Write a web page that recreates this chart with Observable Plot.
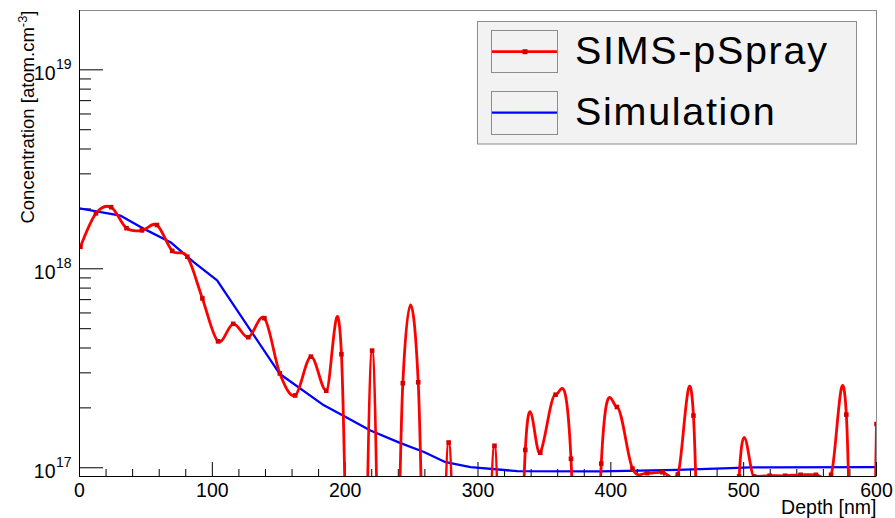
<!DOCTYPE html>
<html><head><meta charset="utf-8">
<script src="https://cdn.jsdelivr.net/npm/d3@7"></script>
<script src="https://cdn.jsdelivr.net/npm/@observablehq/plot@0.6"></script>
<style>
body{margin:0;background:#fff;}
#wrap{width:895px;height:518px;}
</style></head><body><div id="wrap"></div>
<script>
// ---- data ----
const simsDepth = [0.7, 12.4, 23.8, 35.4, 47.0, 58.3, 69.8, 81.2, 92.5, 104.3, 115.7, 127.1, 139.2, 150.8, 162.4, 174.2, 185.8, 197.2, 208.6, 220.3, 231.8, 243.4, 255.0, 266.4, 277.9, 289.4, 300.9, 312.4, 324.0, 335.6, 346.9, 358.4, 370.0, 381.4, 392.8, 404.6, 416.3, 427.4, 438.7, 450.4, 462.2, 473.6, 485.1, 496.6, 507.9, 519.6, 531.2, 542.9, 554.4, 565.8, 577.3, 588.8, 600.0];
const simsConc = [1.29e18, 1.90e18, 2.04e18, 1.60e18, 1.56e18, 1.66e18, 1.23e18, 1.15e18, 7.1e17, 4.32e17, 5.29e17, 4.53e17, 5.65e17, 2.98e17, 2.31e17, 3.62e17, 2.44e17, 3.72e17, 2e14, 3.88e17, 2e14, 2.66e17, 2.69e17, 2e14, 1.34e17, 2e14, 2e14, 1.29e17, 2e14, 1.23e17, 1.19e17, 2.33e17, 1.11e17, 2e14, 1.05e17, 2.02e17, 9.9e16, 9.4e16, 9.5e16, 9.25e16, 1.83e17, 2e14, 2e14, 9.05e16, 9.05e16, 9.12e16, 9.12e16, 9.22e16, 9.22e16, 9.22e16, 1.85e17, 2e14, 1.66e17];
const simDepth = [0, 31, 46, 68.5, 86, 103.6, 150.6, 184, 199, 219, 241.7, 259.3, 275.6, 294.4, 329.6, 392, 450, 490, 505, 600];
const simConc = [2.01e18, 1.85e18, 1.62e18, 1.36e18, 1.08e18, 8.75e17, 2.97e17, 2.06e17, 1.82e17, 1.54e17, 1.33e17, 1.2e17, 1.067e17, 1.007e17, 9.62e16, 9.6e16, 9.77e16, 9.95e16, 1.005e17, 1.007e17];
const xMajor = [0, 100, 200, 300, 400, 500, 600];
const xLabels = ["0", "100", "200", "300", "400", "500", "600"];
const xMinor = [20, 40, 60, 80, 120, 140, 160, 180, 220, 240, 260, 280, 320, 340, 360, 380, 420, 440, 460, 480, 520, 540, 560, 580];
const yMajor = [1e17, 1e18, 1e19];
const yBase = ["10", "10", "10"];
const yExp = ["17", "18", "19"];
const yMinor = [2e17, 3e17, 4e17, 5e17, 6e17, 7e17, 8e17, 9e17, 2e18, 3e18, 4e18, 5e18, 6e18, 7e18, 8e18, 9e18];
const seriesNames = ["SIMS-pSpray", "Simulation"];
const xTitle = "Depth [nm]";
const yTitle = "Concentration [atom.cm";
const yTitleExp = "-3";

// ---- layout ----
const W = 895, H = 518, mL = 79, mR = 19, mT = 10, mB = 42;
const innerW = W - mL - mR, innerH = H - mT - mB;
const yDomain = [9.04e16, 1.987e19];
const font = "'Liberation Sans', Arial, Helvetica, sans-serif";

const sims = simsDepth.map((d, i) => ({x: d, y: simsConc[i]}));
const sim = simDepth.map((d, i) => ({x: d, y: simConc[i]}));

const plot = Plot.plot({
  width: W, height: H,
  marginLeft: mL, marginRight: mR, marginTop: mT, marginBottom: mB,
  x: {domain: [0, 600], axis: null},
  y: {type: "log", domain: yDomain, axis: null},
  style: {fontFamily: font, background: "white", color: "black", overflow: "visible"},
  marks: [
    Plot.frame({stroke: "#8c8c8c"}),
    Plot.tickX(xMinor, {x: d => d, insetTop: innerH - 7, stroke: "#000"}),
    Plot.tickX(xMajor, {x: d => d, insetTop: innerH - 14, stroke: "#000"}),
    Plot.tickY(yMinor, {y: d => d, insetRight: innerW - 12, stroke: "#000"}),
    Plot.tickY(yMajor, {y: d => d, insetRight: innerW - 24, stroke: "#000"}),
    Plot.line(sim, {x: "x", y: "y", stroke: "#0000ff", strokeWidth: 2.3, clip: true}),
    Plot.line(sims, {x: "x", y: "y", stroke: "#ff0000", strokeWidth: 2.8, curve: "cardinal", clip: true}),
    Plot.dot(sims, {x: "x", y: "y", symbol: "square", r: 2.6, fill: "#d40000", stroke: null, clip: true}),
    Plot.ruleX([0], {stroke: "#000"}),
    Plot.ruleY([yDomain[0]], {stroke: "#000"}),
    Plot.text(xLabels, {x: (d, i) => xMajor[i], frameAnchor: "bottom", lineAnchor: "bottom", dy: 20, fontSize: 19.5, fill: "#000"}),
    Plot.text(yBase, {y: (d, i) => yMajor[i], frameAnchor: "left", textAnchor: "end", lineAnchor: "bottom", dx: -24, dy: 10, fontSize: 19.5, fill: "#000"}),
    Plot.text(yExp, {y: (d, i) => yMajor[i], frameAnchor: "left", textAnchor: "start", lineAnchor: "bottom", dx: -23.5, dy: -1, fontSize: 14, fill: "#000"}),
    Plot.text([xTitle], {frameAnchor: "bottom-right", textAnchor: "end", lineAnchor: "bottom", dy: 37, fontSize: 19.5, fill: "#000"}),
    Plot.text([yTitle], {frameAnchor: "top-left", textAnchor: "end", lineAnchor: "bottom", rotate: -90, dx: -46, dy: 0, fontSize: 18.5, fill: "#000"})
  ]
});
document.getElementById("wrap").appendChild(plot);

// superscript in y title
plot.querySelectorAll("text").forEach(el => {
  if (el.textContent === yTitle) {
    const t = d3.select(el);
    t.text(null);
    t.append("tspan").text(yTitle);
    t.append("tspan").attr("dy", "-0.5em").attr("font-size", "0.7em").text(yTitleExp);
    t.append("tspan").attr("dy", "0.35em").text("]");
  }
});

// legend (drawn in the SVG)
const svg = d3.select(plot);
const lg = svg.append("g").attr("font-family", font).attr("text-anchor", "start");
lg.append("rect").attr("x", 477.5).attr("y", 21.5).attr("width", 379).attr("height", 122.5)
  .attr("fill", "#f2f2f2").attr("stroke", "#8c8c8c");
const rows = [{cy: 51.7, top: 30.5, h: 42, color: "#ff0000", marker: true},
              {cy: 112.7, top: 91.5, h: 43, color: "#0000ff", marker: false}];
rows.forEach((r, i) => {
  lg.append("rect").attr("x", 491.5).attr("y", r.top).attr("width", 66).attr("height", r.h)
    .attr("fill", "#f2f2f2").attr("stroke", "#8c8c8c");
  lg.append("line").attr("x1", 492).attr("x2", 557).attr("y1", r.cy).attr("y2", r.cy)
    .attr("stroke", r.color).attr("stroke-width", i === 0 ? 2.8 : 2.3);
  if (r.marker) lg.append("rect").attr("x", 522.5).attr("y", r.cy - 2.5).attr("width", 5).attr("height", 5).attr("fill", "#d40000");
  lg.append("text").attr("x", 575).attr("y", r.cy + 11.8).attr("font-size", 39.5)
    .attr("text-anchor", "start").attr("letter-spacing", "1.7px").attr("fill", "#000").text(seriesNames[i]);
});
</script>
</body></html>
